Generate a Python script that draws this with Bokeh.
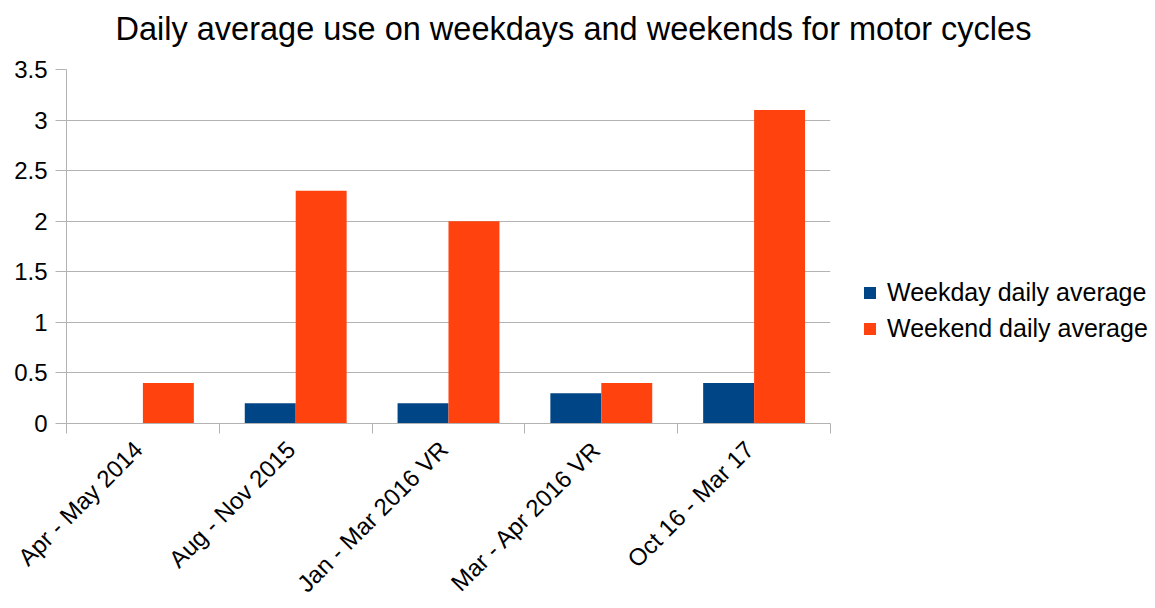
import numpy as np
from bokeh.plotting import figure
from bokeh.models import (ColumnDataSource, Range1d, FixedTicker, Legend, LegendItem,
                          NumeralTickFormatter, Title)
from bokeh.transform import dodge
from bokeh.embed import file_html
from bokeh.resources import INLINE

categories = ["Apr -  May 2014", "Aug -  Nov 2015", "Jan -  Mar 2016 VR",
              "Mar -  Apr 2016 VR", "Oct 16 -  Mar 17"]
weekday = [0.0, 0.2, 0.2, 0.3, 0.4]
weekend = [0.4, 2.3, 2.0, 0.4, 3.1]
series_names = ["Weekday daily average", "Weekend daily average"]
y_ticks = [0, 0.5, 1, 1.5, 2, 2.5, 3, 3.5]

FONT = "Liberation Sans"
C_WD = "#004586"
C_WE = "#ff420e"
GRID = "#b3b3b3"

pos = [i + 0.5 for i in range(len(categories))]
src = ColumnDataSource(dict(x=pos, weekday=weekday, weekend=weekend))

p = figure(frame_width=764, frame_height=354, output_backend="svg", toolbar_location=None,
           x_range=Range1d(0, len(categories)), y_range=Range1d(0, 3.5),
           min_border_left=66, min_border_right=325, min_border_top=69,
           min_border_bottom=185)
p.title = None
p.outline_line_color = None
p.background_fill_color = "white"
p.border_fill_color = "white"

r1 = p.vbar(x=dodge("x", -1/6), top="weekday", width=1/3, source=src,
            fill_color=C_WD, line_color=None)
r2 = p.vbar(x=dodge("x", 1/6), top="weekend", width=1/3, source=src,
            fill_color=C_WE, line_color=None)

# spacer (closest to frame) then the real title above it
spacer = Title(text=" ", text_font=FONT, text_font_size="10px", standoff=8)
p.add_layout(spacer, "above")
title = Title(text="Daily average use on weekdays and weekends for motor cycles",
              align="left", vertical_align="bottom", text_font=FONT,
              text_font_size="32.5px", text_font_style="normal", text_color="black",
              offset=49, standoff=4)
p.add_layout(title, "above")

# x axis
p.xaxis.ticker = FixedTicker(ticks=pos, minor_ticks=list(range(len(categories) + 1)))
p.xaxis.major_label_overrides = {float(x): c for x, c in zip(pos, categories)}
p.xaxis.major_label_orientation = np.pi / 4
p.xaxis.major_tick_line_color = None
p.xaxis.major_tick_out = 0
p.xaxis.major_tick_in = 0
p.xaxis.minor_tick_out = 10
p.xaxis.minor_tick_in = 0
p.xaxis.minor_tick_line_color = GRID
p.xaxis.axis_line_color = GRID
p.xaxis.major_label_text_font = FONT
p.xaxis.major_label_text_font_size = "24px"
p.xaxis.major_label_text_color = "black"
p.xaxis.major_label_standoff = 7

# y axis
p.yaxis.ticker = FixedTicker(ticks=y_ticks, minor_ticks=[])
p.yaxis.formatter = NumeralTickFormatter(format="0.[0]")
p.yaxis.major_tick_out = 11
p.yaxis.major_tick_in = 0
p.yaxis.major_tick_line_color = GRID
p.yaxis.axis_line_color = GRID
p.yaxis.major_label_text_font = FONT
p.yaxis.major_label_text_font_size = "24px"
p.yaxis.major_label_text_color = "black"
p.yaxis.major_label_standoff = 8

p.xgrid.grid_line_color = None
p.ygrid.grid_line_color = GRID
p.ygrid.ticker = FixedTicker(ticks=y_ticks)

legend = Legend(items=[LegendItem(label=series_names[0], renderers=[r1]),
                       LegendItem(label=series_names[1], renderers=[r2])],
                location=(32, 80), orientation="vertical",
                label_text_font=FONT, label_text_font_size="25px",
                label_text_color="black", glyph_width=15, glyph_height=15,
                label_standoff=10, spacing=7, padding=0, margin=0,
                border_line_color=None, background_fill_alpha=0)
p.add_layout(legend, "right")

open("out.html", "w").write(file_html(p, INLINE))
